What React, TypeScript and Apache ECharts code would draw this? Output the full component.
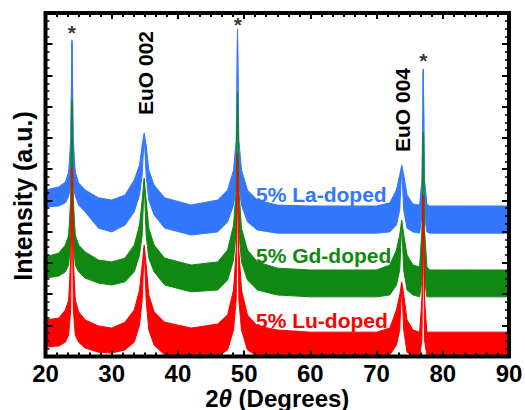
import React, { useEffect, useRef } from "react";
import * as echarts from "echarts";

// 2θ sample positions (degrees)
const twoTheta = [
  20, 22, 23, 23.5, 23.8, 24.0, 24.2, 24.5, 25, 26, 28, 30, 32, 33.4, 34.2, 34.6, 34.9,
  35.2, 35.6, 36.4, 38, 42, 46, 47.5, 48.4, 48.8, 49.0, 49.2, 49.6, 50.5, 52, 55, 60, 65,
  70, 72, 73, 73.5, 73.8, 74.1, 74.6, 75.5, 76.5, 76.85, 77.05, 77.25, 77.6, 78, 80, 85, 90,
];

// Upper / lower envelope of the noisy traces (intensity, a.u.)
const laUpper = [
  533, 543, 559, 591, 693, 1014, 693, 591, 556, 533, 508, 501, 517, 565, 613, 677, 716,
  677, 597, 549, 508, 485, 501, 533, 597, 693, 1049, 693, 597, 533, 501, 485, 482, 482,
  482, 492, 533, 581, 613, 581, 517, 488, 485, 565, 921, 565, 488, 482, 482, 482, 482,
];
const laLower = [
  479, 482, 492, 514, 549, 1007, 549, 514, 485, 463, 411, 399, 421, 463, 517, 581, 706,
  581, 501, 453, 411, 389, 399, 431, 485, 549, 1042, 549, 485, 431, 405, 395, 395, 395,
  395, 399, 421, 469, 604, 469, 411, 399, 395, 453, 914, 453, 399, 395, 395, 395, 395,
];
const gdUpper = [
  319, 331, 357, 389, 501, 821, 501, 389, 357, 335, 309, 303, 315, 357, 421, 501, 572,
  501, 411, 357, 315, 293, 303, 341, 421, 533, 847, 533, 411, 341, 303, 283, 277, 277,
  277, 293, 341, 389, 437, 389, 325, 293, 287, 405, 719, 405, 287, 277, 277, 277, 277,
];
const gdLower = [
  251, 258, 271, 293, 373, 815, 373, 293, 271, 251, 235, 229, 239, 271, 325, 389, 562,
  389, 315, 271, 229, 207, 213, 245, 309, 405, 841, 405, 303, 245, 213, 197, 191, 191,
  191, 197, 229, 277, 427, 277, 213, 197, 191, 245, 712, 245, 191, 191, 191, 191, 191,
];
const luUpper = [
  117, 123, 149, 181, 309, 607, 309, 181, 143, 117, 98, 91, 110, 149, 213, 293, 357,
  293, 197, 143, 110, 91, 104, 133, 213, 341, 652, 341, 213, 133, 98, 85, 78, 78,
  78, 91, 149, 197, 239, 197, 117, 85, 78, 181, 517, 181, 78, 78, 78, 78, 78,
];
const luLower = [
  30, 34, 46, 69, 149, 600, 149, 69, 46, 27, 14, 11, 21, 46, 101, 181, 347,
  181, 85, 37, 5, 0, 0, 21, 85, 181, 645, 181, 85, 21, 0, 0, 0, 0,
  0, 5, 37, 85, 229, 85, 14, 0, 0, 53, 511, 53, 0, 0, 0, 0, 0,
];

// substrate reflections marked with asterisks
const starTheta = [23.96, 49.03, 77.05];
const starIntensity = [1036, 1064, 947];

const X_MIN = 20;
const X_MAX = 90;
const X_STEP = 10;
const Y_MIN = 0;
const Y_MAX = 1100;
const Y_STEP = 100;

const BLUE = "#3377ff";
const GREEN = "#118811";
const RED = "#ff0000";
const FONT = "'Liberation Sans', Arial, sans-serif";

function bandSeries(name: string, upper: number[], lower: number[], color: string) {
  return {
    type: "custom",
    name,
    silent: true,
    data: twoTheta.map((x, i) => [x, lower[i], upper[i]]),
    encode: { x: 0, y: [1, 2] },
    renderItem: (params: any, api: any) => {
      if (params.dataIndex !== 0) return null;
      const top = twoTheta.map((x, i) => api.coord([x, upper[i]]));
      const bottom = twoTheta.map((x, i) => api.coord([x, lower[i]])).reverse();
      return {
        type: "polygon",
        shape: { points: top.concat(bottom) },
        style: { fill: color, stroke: color, lineWidth: 1 },
      };
    },
  };
}

export default function App() {
  const ref = useRef<HTMLDivElement>(null);

  useEffect(() => {
    if (!ref.current) return;
    const chart = echarts.init(ref.current, undefined, { renderer: "svg" });

    const tickCommon = {
      splitLine: { show: false },
      z: 10,
    };

    const xTick = {
      axisLine: { show: false, onZero: false },
      axisTick: { inside: true, length: 6, lineStyle: { color: "#000", width: 2 } },
      minorTick: { show: true, splitNumber: 6, length: 4, lineStyle: { color: "#000", width: 2 } },
    };
    const yTick = {
      axisLine: { show: false, onZero: false },
      axisTick: { inside: true, length: 7, lineStyle: { color: "#000", width: 2 } },
      minorTick: { show: true, splitNumber: 4, length: 4, lineStyle: { color: "#000", width: 1.5 } },
    };

    const option: any = {
      animation: false,
      backgroundColor: "#ffffff",
      grid: {
        left: 45.5,
        right: 16,
        top: 13,
        bottom: 53.5,
        containLabel: false,
        outerBoundsMode: "none",
        show: true,
        borderColor: "#000",
        borderWidth: 4,
        backgroundColor: "transparent",
        z: 10,
      },
      xAxis: [
        {
          ...tickCommon,
          ...xTick,
          type: "value",
          position: "bottom",
          min: X_MIN,
          max: X_MAX,
          interval: X_STEP,
          axisLabel: {
            margin: 5,
            color: "#000",
            fontSize: 24,
            lineHeight: 24,
            fontWeight: "bold",
            fontFamily: FONT,
          },
          name: "2{i|θ} (Degrees)",
          nameLocation: "middle",
          nameGap: 29.5,
          nameMoveOverlap: false,
          nameTextStyle: {
            color: "#000",
            fontSize: 24,
            lineHeight: 24,
            fontWeight: "bold",
            fontFamily: FONT,
            rich: {
              i: {
                fontStyle: "italic",
                fontSize: 24,
                lineHeight: 24,
                fontWeight: "bold",
                fontFamily: FONT,
                color: "#000",
              },
            },
          },
        },
        {
          ...tickCommon,
          ...xTick,
          type: "value",
          position: "top",
          min: X_MIN,
          max: X_MAX,
          interval: X_STEP,
          axisLabel: { show: false },
        },
      ],
      yAxis: [
        {
          ...tickCommon,
          ...yTick,
          type: "value",
          position: "left",
          min: Y_MIN,
          max: Y_MAX,
          interval: Y_STEP,
          axisLabel: { show: false },
        },
        {
          ...tickCommon,
          ...yTick,
          type: "value",
          position: "right",
          min: Y_MIN,
          max: Y_MAX,
          interval: Y_STEP,
          axisLabel: { show: false },
        },
      ],
      series: [
        bandSeries("5% La-doped", laUpper, laLower, BLUE),
        bandSeries("5% Gd-doped", gdUpper, gdLower, GREEN),
        bandSeries("5% Lu-doped", luUpper, luLower, RED),
        {
          type: "scatter",
          name: "substrate",
          data: starTheta.map((x, i) => [x, starIntensity[i]]),
          symbolSize: 1,
          itemStyle: { color: "transparent" },
          silent: true,
          z: 5,
          label: {
            show: true,
            position: "inside",
            formatter: "*",
            color: "#000",
            fontSize: 21,
            fontWeight: "bold",
            fontFamily: FONT,
          },
        },
      ],
      graphic: [
        {
          type: "text",
          x: 23,
          y: 196,
          rotation: Math.PI / 2,
          style: {
            text: "Intensity (a.u.)",
            fill: "#000",
            font: `bold 25px ${FONT}`,
            align: "center",
            verticalAlign: "middle",
          },
        },
        {
          type: "text",
          x: 145,
          y: 73,
          rotation: Math.PI / 2,
          style: {
            text: "EuO 002",
            fill: "#000",
            font: `bold 21px ${FONT}`,
            align: "center",
            verticalAlign: "middle",
          },
        },
        {
          type: "text",
          x: 402,
          y: 110,
          rotation: Math.PI / 2,
          style: {
            text: "EuO 004",
            fill: "#000",
            font: `bold 21px ${FONT}`,
            align: "center",
            verticalAlign: "middle",
          },
        },
        {
          type: "text",
          x: 256,
          y: 194,
          z: 20,
          style: {
            text: "5% La-doped",
            fill: BLUE,
            font: `bold 21px ${FONT}`,
            align: "left",
            verticalAlign: "middle",
          },
        },
        {
          type: "text",
          x: 256,
          y: 255.5,
          z: 20,
          style: {
            text: "5% Gd-doped",
            fill: GREEN,
            font: `bold 21px ${FONT}`,
            align: "left",
            verticalAlign: "middle",
          },
        },
        {
          type: "text",
          x: 256,
          y: 320,
          z: 20,
          style: {
            text: "5% Lu-doped",
            fill: RED,
            font: `bold 21px ${FONT}`,
            align: "left",
            verticalAlign: "middle",
          },
        },
      ],
    };

    chart.setOption(option);
    return () => {
      chart.dispose();
    };
  }, []);

  return (
    <div
      ref={ref}
      style={{ position: "absolute", left: 0, top: 0, width: 525, height: 410, background: "#fff" }}
    />
  );
}
